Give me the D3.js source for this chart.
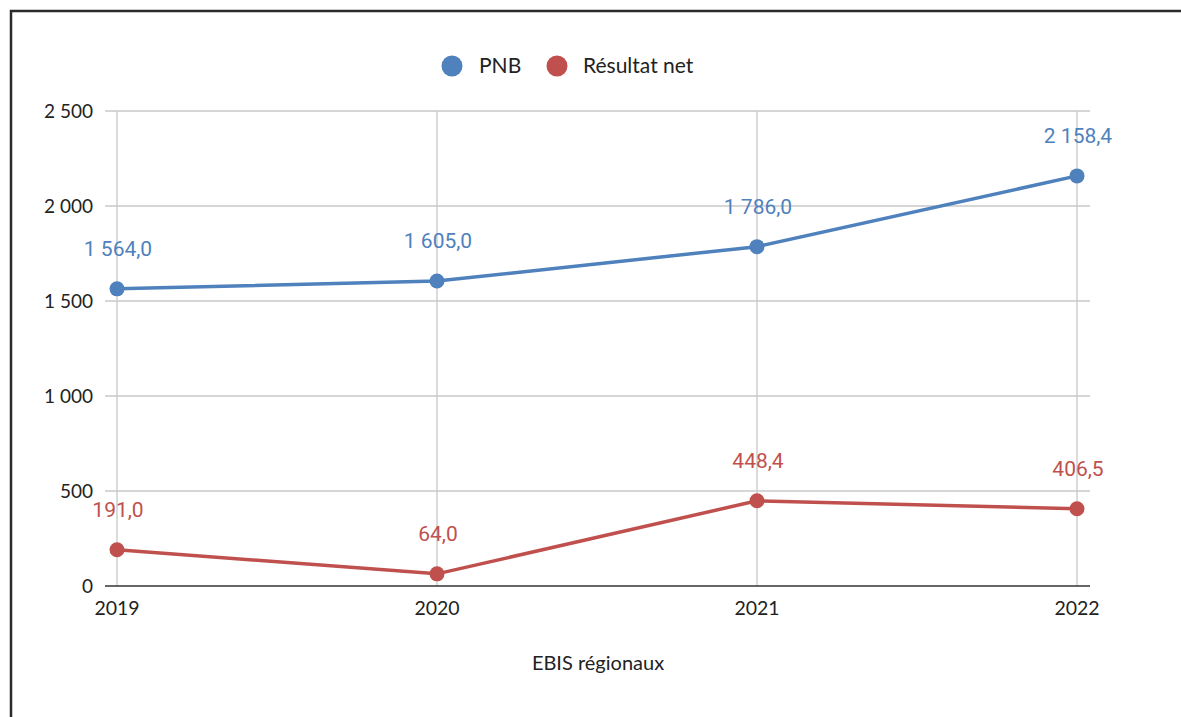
<!DOCTYPE html>
<html><head><meta charset="utf-8">
<script src="https://cdn.jsdelivr.net/npm/d3@7"></script>
<style>html,body{margin:0;padding:0;background:#fff;overflow:hidden}</style>
</head><body>
<svg id="c" width="1181" height="717"></svg>
<script>
const categories = ["2019", "2020", "2021", "2022"];
const pnb = [1564.0, 1605.0, 1786.0, 2158.4];
const resultatNet = [191.0, 64.0, 448.4, 406.5];
const yTicks = [0, 500, 1000, 1500, 2000, 2500];
const seriesNames = ["PNB", "Résultat net"];
const colors = ["#4f81bd", "#c0504d"];
const xTitle = "EBIS régionaux";

const svg = d3.select("#c");
svg.append("rect").attr("x", 11).attr("y", 11).attr("width", 1200).attr("height", 800)
  .attr("fill", "#fff").attr("stroke", "#2b2b2b").attr("stroke-width", 2.5);

const x = d3.scalePoint().domain(categories).range([117, 1077]);
const y = d3.scaleLinear().domain([0, 2500]).range([586, 111]);
const fmtTick = v => d3.format(",")(v).replace(/,/g, " ");
const fmtVal = v => d3.format(",.1f")(v).replace(/,/g, " ").replace(".", ",");
const axisFont = "Lato, 'Open Sans', sans-serif";

svg.append("g").selectAll("line").data(yTicks.filter(t => t > 0)).join("line")
  .attr("x1", 105).attr("x2", 1090).attr("y1", d => y(d)).attr("y2", d => y(d))
  .attr("stroke", "#c8c8c8").attr("stroke-width", 1.3);
svg.append("g").selectAll("line").data(categories).join("line")
  .attr("x1", d => x(d)).attr("x2", d => x(d)).attr("y1", y(2500)).attr("y2", y(0))
  .attr("stroke", "#c8c8c8").attr("stroke-width", 1.3);
svg.append("line").attr("x1", 105).attr("x2", 1090).attr("y1", y(0)).attr("y2", y(0))
  .attr("stroke", "#333").attr("stroke-width", 1.3);

svg.append("g").selectAll("text").data(yTicks).join("text")
  .attr("x", 93).attr("y", d => y(d)).attr("dy", "0.35em").attr("text-anchor", "end")
  .attr("font-family", axisFont).attr("font-size", 19).attr("fill", "#222")
  .text(fmtTick);
svg.append("g").selectAll("text").data(categories).join("text")
  .attr("x", d => x(d)).attr("y", 608).attr("dy", "0.35em").attr("text-anchor", "middle")
  .attr("font-family", axisFont).attr("font-size", 19.5).attr("fill", "#222")
  .text(d => d);
svg.append("text").attr("x", 598).attr("y", 663).attr("dy", "0.35em").attr("text-anchor", "middle")
  .attr("font-family", axisFont).attr("font-size", 20).attr("fill", "#222")
  .text(xTitle);

const series = [pnb, resultatNet];
const line = d3.line().x((d, i) => x(categories[i])).y(d => y(d));
series.forEach((s, k) => {
  const g = svg.append("g");
  g.append("path").attr("d", line(s)).attr("fill", "none").attr("stroke", colors[k]).attr("stroke-width", 3.5);
  g.selectAll("circle").data(s).join("circle")
    .attr("cx", (d, i) => x(categories[i])).attr("cy", d => y(d)).attr("r", 7.5).attr("fill", colors[k]);
  g.selectAll("text").data(s).join("text")
    .attr("x", (d, i) => x(categories[i]) + 1).attr("y", d => y(d) - 40).attr("dy", "0.35em")
    .attr("text-anchor", "middle").attr("font-family", "Roboto, sans-serif").attr("font-size", 21)
    .attr("fill", colors[k]).text(fmtVal);
});

const leg = [{name: seriesNames[0], cx: 452, tx: 479}, {name: seriesNames[1], cx: 557, tx: 583}];
leg.forEach((l, k) => {
  svg.append("circle").attr("cx", l.cx).attr("cy", 66).attr("r", 10.5).attr("fill", colors[k]);
  svg.append("text").attr("x", l.tx).attr("y", 66).attr("dy", "0.35em")
    .attr("font-family", axisFont).attr("font-size", 21).attr("fill", "#222").text(l.name);
});
</script>
</body></html>
